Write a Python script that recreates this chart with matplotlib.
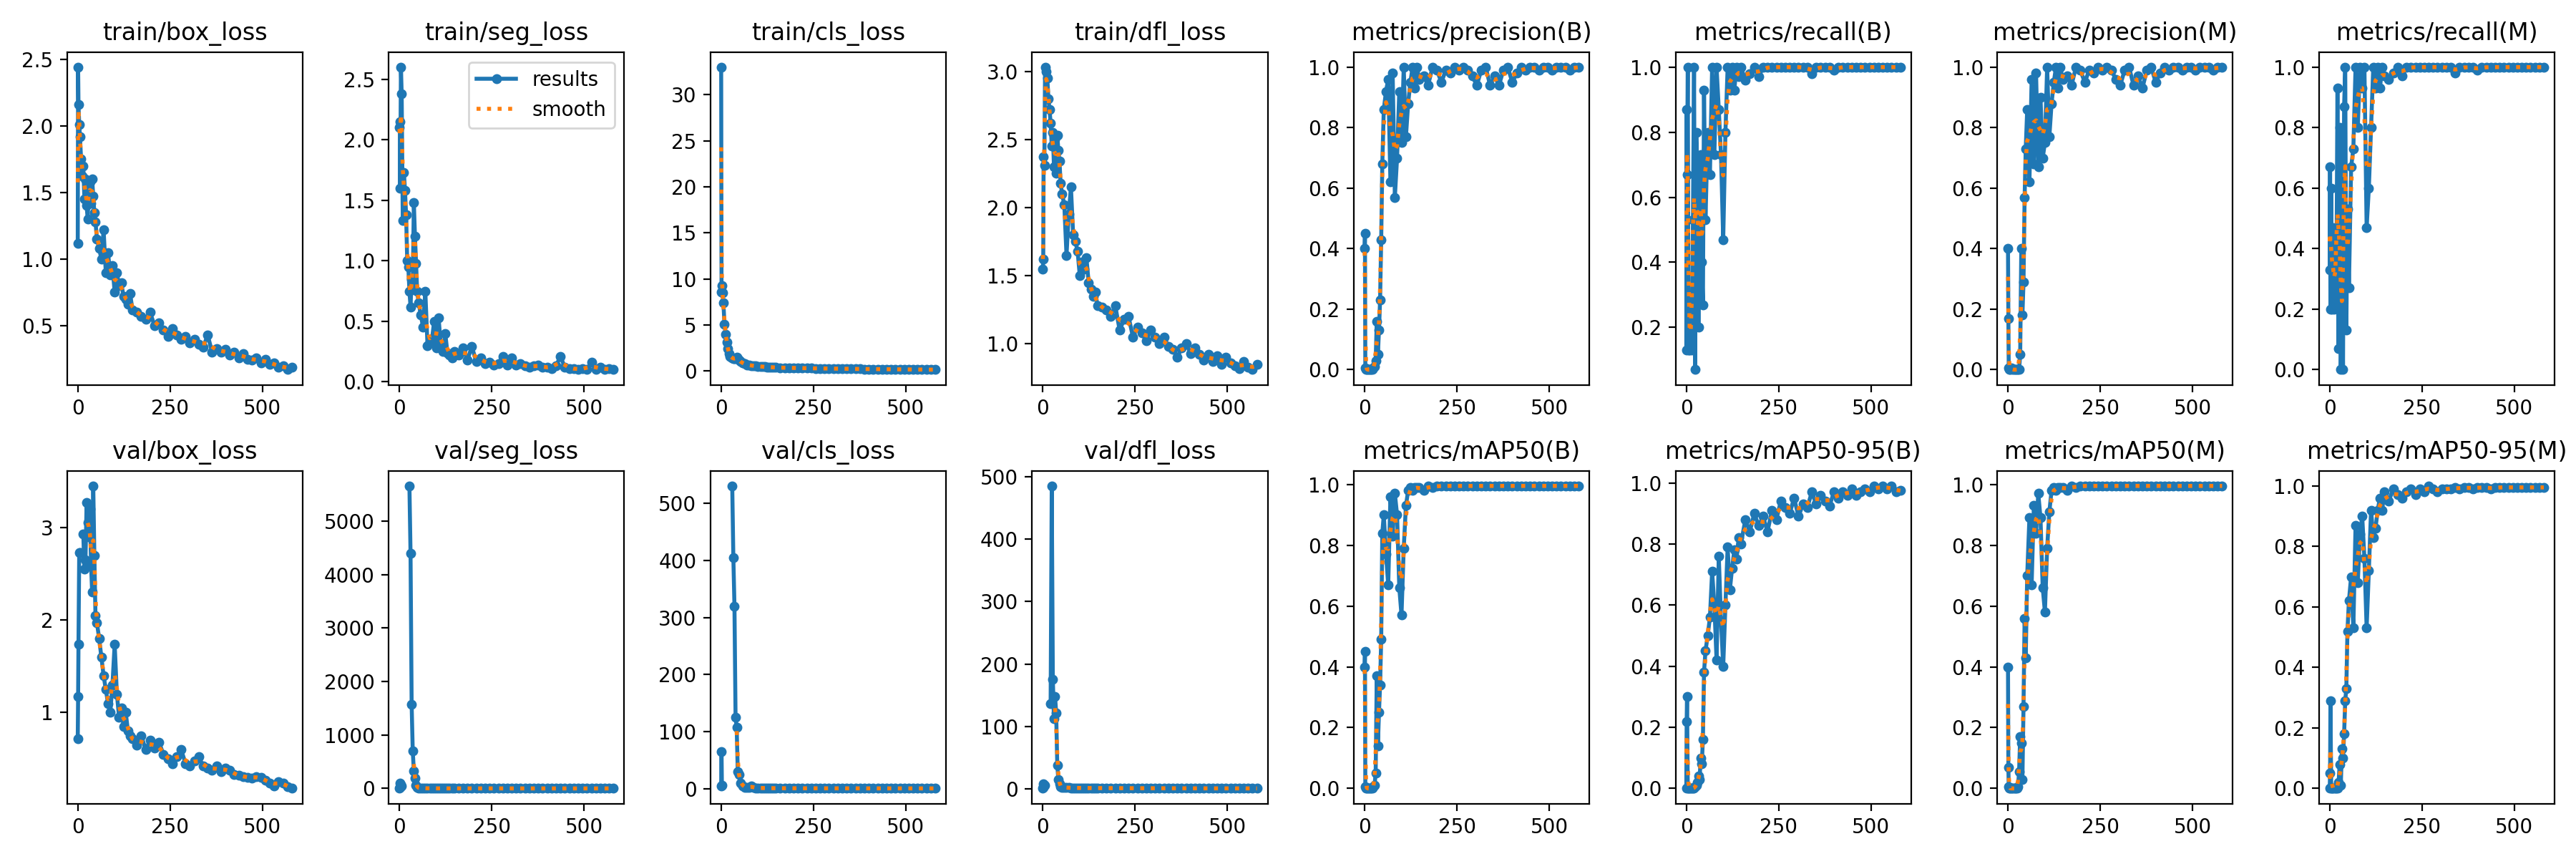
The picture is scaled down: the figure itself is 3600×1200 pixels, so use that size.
import numpy as np
import matplotlib
matplotlib.use("Agg")
import matplotlib.pyplot as plt
from matplotlib.ticker import MultipleLocator

nan = np.nan

# epochs (denser at the start, where the curves move fast)
epochs = [0, 1, 2, 4, 6, 9, 12, 15, 18, 21, 24, 27, 30, 33, 36, 39, 42, 45, 48,
          52, 58, 64, 70, 76, 82, 88, 94, 100, 106, 112, 118, 124, 130, 136, 142, 148,
          160, 172, 184, 196, 208, 220, 232, 244, 256, 268, 280, 292, 304, 316, 328, 340,
          352, 364, 376, 388, 400, 412, 424, 436, 448, 460, 472, 484, 496, 508, 520, 532,
          544, 556, 568, 580]

train_box_loss = [1.12, 2.44, 2.16, 2.01, 1.92, 1.75, 1.62, 1.70, 1.45, 1.60, 1.40, 1.30, 1.55, 1.58, 1.42, 1.60, 1.47, 1.35, 1.28,
                  1.15, 1.08, 1.00, 1.22, 0.90, 1.05, 0.88, 0.95, 0.75, 0.90, 0.80, 0.82, 0.72, 0.70, 0.66, 0.74, 0.62,
                  0.60, 0.57, 0.55, 0.60, 0.50, 0.52, 0.47, 0.42, 0.48, 0.43, 0.40, 0.42, 0.37, 0.40, 0.36, 0.34, 0.43, 0.30,
                  0.33, 0.30, 0.32, 0.28, 0.30, 0.26, 0.29, 0.25, 0.24, 0.26, 0.22, 0.25, 0.21, 0.22, 0.19, 0.20, 0.17, 0.19]
train_seg_loss = [2.10, 2.15, 1.60, 2.60, 2.38, 1.33, 1.73, 1.58, 1.38, 1.00, 0.95, 0.75, 0.62, 0.85, 0.80, 1.48, 1.20, 0.98, 0.75,
                  0.65, 0.55, 0.45, 0.75, 0.30, 0.33, 0.35, 0.50, 0.28, 0.53, 0.30, 0.25, 0.40, 0.24, 0.22, 0.20, 0.25,
                  0.22, 0.28, 0.18, 0.29, 0.17, 0.20, 0.15, 0.16, 0.14, 0.15, 0.21, 0.14, 0.20, 0.14, 0.15, 0.13, 0.12, 0.13,
                  0.14, 0.12, 0.12, 0.11, 0.13, 0.21, 0.12, 0.11, 0.11, 0.10, 0.11, 0.10, 0.16, 0.10, 0.12, 0.10, 0.11, 0.10]
train_cls_loss = [33.0, 8.6, 9.3, 8.5, 7.4, 5.1, 4.0, 3.1, 2.4, 1.9, 1.6, 1.5, 1.4, 1.35, 1.3, 1.35, 1.45, 1.35, 1.2,
                  1.0, 0.85, 0.75, 0.65, 0.62, 0.58, 0.55, 0.52, 0.50, 0.48, 0.46, 0.44, 0.42, 0.41, 0.40, 0.38, 0.37,
                  0.35, 0.34, 0.33, 0.32, 0.31, 0.30, 0.29, 0.28, 0.27, 0.27, 0.26, 0.25, 0.25, 0.24, 0.23, 0.23, 0.22, 0.21,
                  0.21, 0.20, 0.20, 0.19, 0.19, 0.18, 0.18, 0.17, 0.17, 0.16, 0.16, 0.15, 0.15, 0.15, 0.14, 0.14, 0.13, 0.13]
train_dfl_loss = [1.55, 1.62, 2.37, 2.31, 3.03, 3.00, 2.95, 2.80, 2.72, 2.62, 2.45, 2.55, 2.30, 2.50, 2.25, 2.53, 2.42, 2.34, 2.18,
                  2.10, 2.02, 1.65, 1.95, 2.15, 1.80, 1.75, 1.68, 1.50, 1.60, 1.55, 1.63, 1.45, 1.40, 1.35, 1.38, 1.28,
                  1.27, 1.25, 1.20, 1.28, 1.10, 1.18, 1.20, 1.05, 1.12, 1.08, 1.02, 1.10, 1.05, 1.00, 1.05, 0.98, 0.96, 0.90,
                  0.97, 1.00, 0.93, 0.97, 0.92, 0.88, 0.92, 0.87, 0.91, 0.85, 0.90, 0.86, 0.84, 0.82, 0.87, 0.83, 0.81, 0.85]
precision_b = [0.40, 0.45, 0.005, 0.0, 0.0, 0.0, 0.0, 0.0, 0.0, 0.0, 0.005, 0.01, 0.03, 0.16, 0.05, 0.13, 0.23, 0.43, 0.68,
               0.86, 0.92, 0.96, 0.62, 0.98, 0.57, 0.70, 0.92, 0.75, 1.0, 0.77, 0.88, 0.95, 1.0, 0.93, 1.0, 0.96,
               0.97, 0.94, 1.0, 0.99, 0.95, 0.99, 0.98, 1.0, 0.99, 1.0, 0.99, 0.97, 0.94, 0.99, 1.0, 0.94, 0.97, 0.94,
               0.99, 1.0, 0.95, 0.98, 1.0, 0.99, 1.0, 1.0, 0.99, 1.0, 1.0, 0.99, 1.0, 1.0, 1.0, 0.99, 1.0, 1.0]
recall_b = [0.13, 0.87, 0.67, 1.0, 0.13, 0.13, 0.20, 0.13, 0.53, 1.0, 0.07, 0.80, 0.67, 0.20, 0.60, 0.73, 0.40, 0.27, 0.93,
            0.53, 0.80, 0.67, 1.0, 0.73, 1.0, 0.87, 0.73, 0.47, 0.80, 1.0, 0.93, 1.0, 0.93, 1.0, 0.97, 1.0,
            0.96, 0.98, 1.0, 0.97, 1.0, 1.0, 1.0, 1.0, 1.0, 1.0, 1.0, 1.0, 1.0, 1.0, 1.0, 0.98, 1.0, 1.0,
            1.0, 1.0, 0.99, 1.0, 1.0, 1.0, 1.0, 1.0, 1.0, 1.0, 1.0, 1.0, 1.0, 1.0, 1.0, 1.0, 1.0, 1.0]
precision_m = [0.40, 0.17, 0.005, 0.0, 0.0, 0.005, 0.0, 0.0, 0.0, 0.0, 0.0, 0.0, 0.0, 0.05, 0.40, 0.18, 0.29, 0.57, 0.73,
               0.86, 0.62, 0.96, 0.68, 0.98, 0.67, 0.90, 0.70, 0.75, 1.0, 0.77, 0.88, 0.95, 1.0, 0.93, 1.0, 0.96,
               0.97, 0.94, 1.0, 0.99, 0.95, 0.99, 0.98, 1.0, 0.99, 1.0, 0.99, 0.96, 0.94, 0.99, 1.0, 0.94, 0.97, 0.93,
               0.99, 1.0, 0.95, 0.98, 1.0, 0.99, 1.0, 1.0, 0.99, 1.0, 1.0, 0.99, 1.0, 1.0, 1.0, 0.99, 1.0, 1.0]
recall_m = [0.33, 0.67, 0.20, 0.60, 0.20, 0.47, 0.20, 0.33, 0.27, 0.93, 0.07, 0.80, 0.0, 0.33, 0.0, 0.87, 1.0, 0.13, 0.53,
            0.27, 0.67, 0.73, 1.0, 0.80, 1.0, 0.93, 1.0, 0.47, 0.60, 0.80, 1.0, 0.93, 1.0, 0.93, 1.0, 0.97,
            0.96, 0.98, 1.0, 0.97, 1.0, 1.0, 1.0, 1.0, 1.0, 1.0, 1.0, 1.0, 1.0, 1.0, 1.0, 0.98, 1.0, 1.0,
            1.0, 1.0, 0.99, 1.0, 1.0, 1.0, 1.0, 1.0, 1.0, 1.0, 1.0, 1.0, 1.0, 1.0, 1.0, 1.0, 1.0, 1.0]
val_box_loss = [0.72, 1.17, 1.74, 2.73, 2.73, nan, nan, 2.93, 2.55, 2.65, 3.27, 3.05, 2.90, 3.20, 2.60, 2.30, 3.45, 2.70, 2.05,
                1.97, 1.80, 1.60, 1.40, 1.25, 1.10, 1.00, 1.30, 1.74, 1.20, 0.95, 1.05, 0.85, 1.00, 0.80, 0.75, 0.72,
                0.65, 0.75, 0.60, 0.70, 0.62, 0.68, 0.55, 0.50, 0.45, 0.52, 0.60, 0.45, 0.42, 0.48, 0.52, 0.42, 0.40, 0.38,
                0.42, 0.36, 0.40, 0.38, 0.33, 0.32, 0.31, 0.30, 0.29, 0.31, 0.30, 0.27, 0.24, 0.21, 0.25, 0.24, 0.20, 0.18]
val_seg_loss = [10, 100, 20, 80, 40, nan, nan, nan, nan, nan, nan, 5660, 4400, 1570, 700, 330, 200, 60, 20,
                8, 5, 4, 3, 3, 2.5, 2, 2, 2, 1.8, 1.6, 1.5, 1.4, 1.3, 1.3, 1.2, 1.2,
                1.15, 1.12, 1.10, 1.08, 1.06, 1.05, 1.03, 1.02, 1.00, 0.99, 0.98, 0.97, 0.96, 0.95, 0.94, 0.93, 0.92, 0.91,
                0.90, 0.90, 0.89, 0.88, 0.88, 0.87, 0.86, 0.86, 0.85, 0.85, 0.84, 0.84, 0.83, 0.83, 0.82, 0.82, 0.81, 0.81]
val_cls_loss = [5, 65, 6, nan, nan, nan, nan, nan, nan, nan, nan, nan, 530, 405, 320, 125, 108, 30, 25,
                10, 5, 3, 2.5, 3, 5, 2.5, 2, 1.8, 1.7, 1.6, 1.5, 1.5, 1.4, 1.4, 1.3, 1.3,
                1.25, 1.22, 1.20, 1.18, 1.16, 1.15, 1.13, 1.12, 1.10, 1.09, 1.08, 1.06, 1.05, 1.04, 1.03, 1.02, 1.01, 1.00,
                0.99, 0.98, 0.97, 0.96, 0.96, 0.95, 0.94, 0.93, 0.93, 0.92, 0.91, 0.91, 0.90, 0.90, 0.89, 0.89, 0.88, 0.88]
val_dfl_loss = [1, 8, 3, 6, nan, nan, nan, nan, nan, 137, 485, 175, 112, 148, 122, 38, 15, 8, 4,
                3.0, 2.6, 2.3, 2.1, 2.0, 1.9, 1.85, 1.8, 1.75, 1.7, 1.68, 1.65, 1.62, 1.6, 1.58, 1.56, 1.55,
                1.52, 1.50, 1.47, 1.45, 1.43, 1.41, 1.39, 1.37, 1.35, 1.33, 1.31, 1.30, 1.28, 1.26, 1.25, 1.23, 1.22, 1.20,
                1.19, 1.18, 1.16, 1.15, 1.14, 1.13, 1.12, 1.11, 1.10, 1.09, 1.08, 1.07, 1.06, 1.05, 1.04, 1.03, 1.02, 1.01]
map50_b = [0.40, 0.45, 0.005, 0.0, 0.0, 0.0, 0.0, 0.0, 0.0, 0.0, 0.005, 0.01, 0.05, 0.37, 0.14, 0.25, 0.34, 0.49, 0.84,
           0.90, 0.77, 0.67, 0.96, 0.83, 0.97, 0.90, 0.66, 0.57, 0.79, 0.93, 0.98, 0.99, 0.98, 0.99, 0.99, 0.99,
           0.98, 0.995, 0.99, 0.995, 0.995, 0.995, 0.995, 0.995, 0.995, 0.995, 0.995, 0.995, 0.995, 0.995, 0.995, 0.995, 0.995, 0.995,
           0.995, 0.995, 0.995, 0.995, 0.995, 0.995, 0.995, 0.995, 0.995, 0.995, 0.995, 0.995, 0.995, 0.995, 0.995, 0.995, 0.995, 0.995]
map5095_b = [0.0, 0.22, 0.30, 0.0, 0.0, 0.0, 0.0, 0.0, 0.0, 0.0, 0.005, 0.01, 0.02, 0.04, 0.03, 0.10, 0.08, 0.16, 0.38,
             0.45, 0.50, 0.56, 0.71, 0.60, 0.42, 0.76, 0.55, 0.40, 0.60, 0.79, 0.65, 0.72, 0.78, 0.75, 0.82, 0.80,
             0.88, 0.84, 0.90, 0.86, 0.89, 0.84, 0.91, 0.88, 0.94, 0.92, 0.90, 0.95, 0.89, 0.93, 0.92, 0.97, 0.93, 0.96,
             0.94, 0.925, 0.97, 0.95, 0.97, 0.96, 0.98, 0.96, 0.97, 0.98, 0.97, 0.99, 0.98, 0.99, 0.98, 0.99, 0.97, 0.975]
map50_m = [0.40, 0.07, 0.005, 0.0, 0.0, 0.0, 0.0, 0.0, 0.0, 0.0, 0.0, 0.005, 0.055, 0.17, 0.15, 0.03, 0.27, 0.56, 0.43,
           0.70, 0.89, 0.67, 0.93, 0.84, 0.97, 0.89, 0.66, 0.58, 0.79, 0.91, 0.98, 0.99, 0.98, 0.99, 0.99, 0.99,
           0.98, 0.995, 0.99, 0.995, 0.995, 0.995, 0.995, 0.995, 0.995, 0.995, 0.995, 0.995, 0.995, 0.995, 0.995, 0.995, 0.995, 0.995,
           0.995, 0.995, 0.995, 0.995, 0.995, 0.995, 0.995, 0.995, 0.995, 0.995, 0.995, 0.995, 0.995, 0.995, 0.995, 0.995, 0.995, 0.995]
map5095_m = [0.0, 0.05, 0.29, 0.0, 0.0, 0.0, 0.0, 0.0, 0.0, 0.0, 0.02, 0.08, 0.01, 0.13, 0.10, 0.18, 0.29, 0.33, 0.52,
             0.62, 0.70, 0.53, 0.87, 0.68, 0.84, 0.90, 0.76, 0.53, 0.72, 0.92, 0.83, 0.86, 0.92, 0.96, 0.92, 0.98,
             0.95, 0.99, 0.97, 0.96, 0.98, 0.99, 0.97, 0.99, 0.98, 1.0, 0.99, 0.98, 0.99, 0.99, 0.99, 0.995, 0.99, 0.995,
             0.995, 0.99, 0.995, 0.995, 0.995, 0.99, 0.995, 0.995, 0.995, 0.995, 0.995, 0.995, 0.995, 0.995, 0.995, 0.995, 0.995, 0.995]

titles = ["train/box_loss", "train/seg_loss", "train/cls_loss", "train/dfl_loss",
          "metrics/precision(B)", "metrics/recall(B)", "metrics/precision(M)", "metrics/recall(M)",
          "val/box_loss", "val/seg_loss", "val/cls_loss", "val/dfl_loss",
          "metrics/mAP50(B)", "metrics/mAP50-95(B)", "metrics/mAP50(M)", "metrics/mAP50-95(M)"]
series = [train_box_loss, train_seg_loss, train_cls_loss, train_dfl_loss,
          precision_b, recall_b, precision_m, recall_m,
          val_box_loss, val_seg_loss, val_cls_loss, val_dfl_loss,
          map50_b, map5095_b, map50_m, map5095_m]


def gauss_smooth(y, sigma=1.0):
    """gaussian filter like scipy (reflect mode), nan spreads over the window"""
    r = int(4 * sigma + 0.5)
    k = np.exp(-0.5 * (np.arange(-r, r + 1) / sigma) ** 2)
    k /= k.sum()
    yp = np.pad(np.asarray(y, dtype=float), r, mode="symmetric")
    return np.convolve(yp, k, mode="valid")


x = np.array(epochs, dtype=float)
fig, ax = plt.subplots(2, 8, figsize=(18, 6), tight_layout=True)
ax = ax.ravel()
for i, (t, y) in enumerate(zip(titles, series)):
    y = np.array(y, dtype=float)
    ax[i].plot(x, y, marker=".", label="results", linewidth=2, markersize=8)
    ax[i].plot(x, gauss_smooth(y), ":", label="smooth", linewidth=2)
    ax[i].set_title(t, fontsize=12)
ax[1].legend()
ax[8].yaxis.set_major_locator(MultipleLocator(1))  # val/box_loss ticks 1, 2, 3
fig.savefig("out.png", dpi=200)
